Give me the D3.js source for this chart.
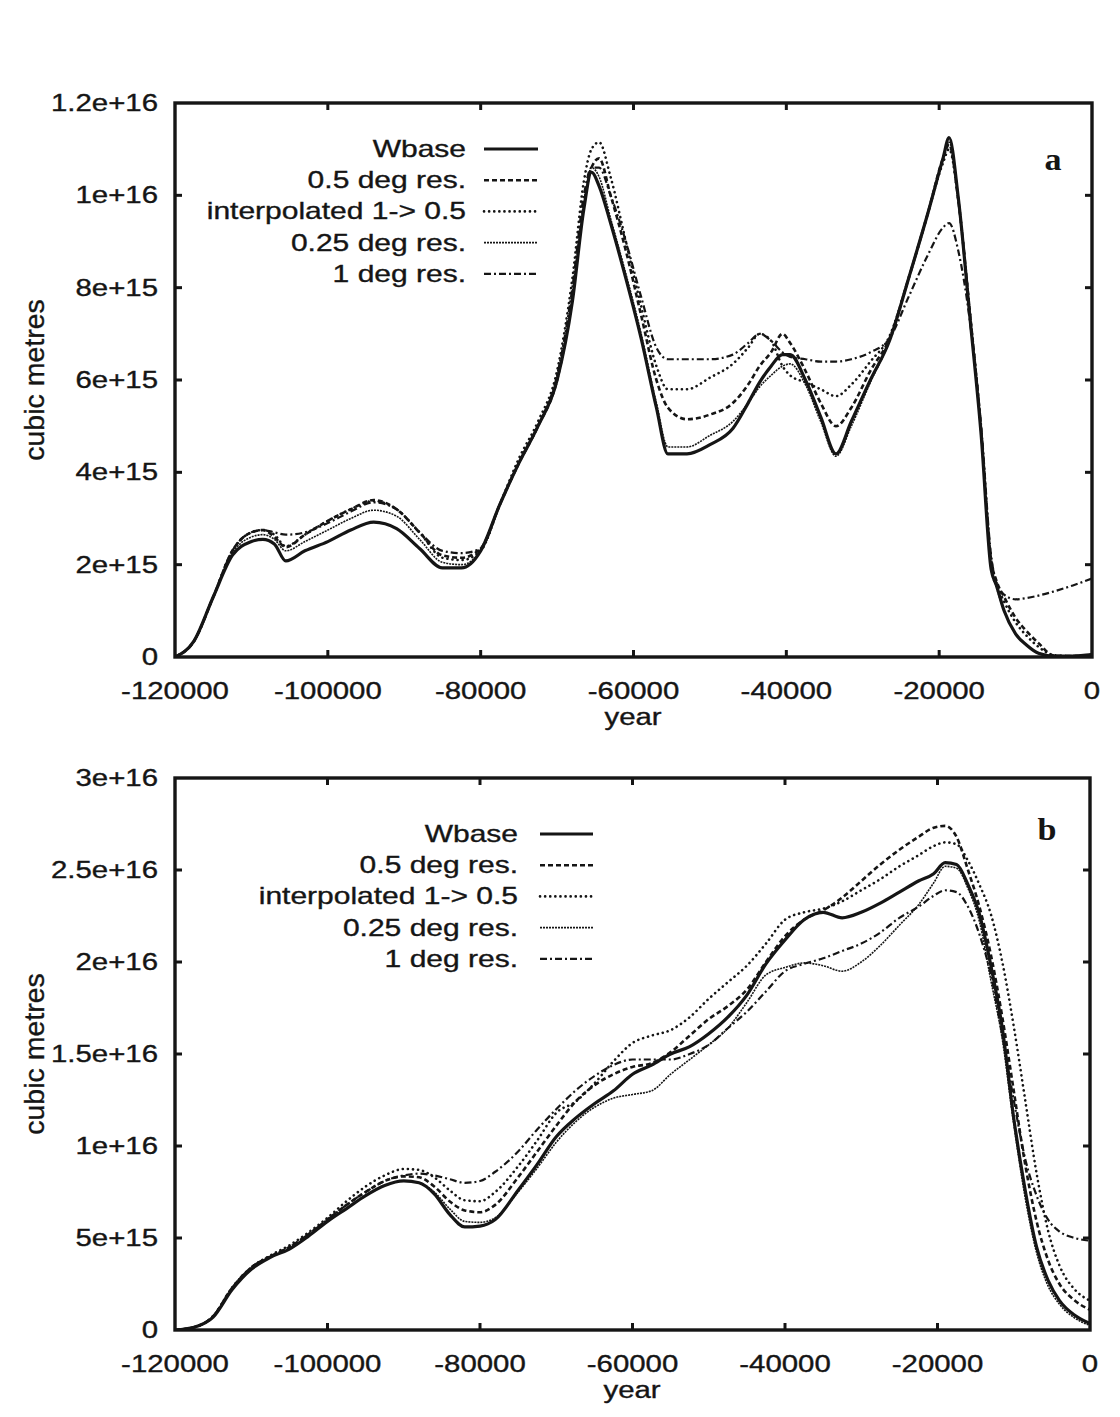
<!DOCTYPE html>
<html><head><meta charset="utf-8">
<script src="https://cdn.jsdelivr.net/npm/d3@7"></script>
<style>body{margin:0;background:#fff}svg{display:block}</style>
</head><body>
<svg id="c" width="1120" height="1417"></svg>
<script>
// ---------- DATA (values in units of 1e15 cubic metres) ----------
const seriesNames = ["Wbase","0.5 deg res.","interpolated 1-> 0.5","0.25 deg res.","1 deg res."];
const xTicks = [-120000,-100000,-80000,-60000,-40000,-20000,0];
const yTicksA = [0,2,4,6,8,10,12];
const yTickLabelsA = ["0","2e+15","4e+15","6e+15","8e+15","1e+16","1.2e+16"];
const yTicksB = [0,5,10,15,20,25,30];
const yTickLabelsB = ["0","5e+15","1e+16","1.5e+16","2e+16","2.5e+16","3e+16"];

const yearsA = [-120000,-117500,-115000,-112500,-110000,-108500,-107000,-105500,-103000,-100000,
 -97000,-94000,-91000,-88000,-85000,-82500,-80000,-77500,-75000,-72500,
 -70000,-68000,-66500,-65500,-64500,-63000,-61000,-59000,-57000,-55500,
 -53000,-50000,-47000,-45000,-43500,-42000,-40500,-39500,-37500,-35500,
 -33500,-31500,-29000,-26500,-24000,-21500,-19500,-18700,-17500,-16000,
 -14500,-13200,-12500,-11500,-10000,-8500,-7000,-5000,-2500,0];
const aWbase = [0,0.35,1.3,2.2,2.5,2.55,2.45,2.08,2.3,2.5,
 2.75,2.92,2.78,2.35,1.93,1.93,2.3,3.3,4.2,5.0,
 6.0,7.7,9.7,10.5,10.2,9.4,8.2,6.9,5.4,4.4,
 4.4,4.6,4.95,5.5,5.95,6.3,6.55,6.55,6.0,5.2,
 4.4,5.1,6.0,6.85,8.2,9.6,10.8,11.25,9.95,7.4,
 4.8,1.9,1.55,1.0,0.5,0.25,0.08,0.02,0.02,0.05];
const aHalf = [0,0.35,1.3,2.3,2.7,2.75,2.6,2.38,2.65,2.95,
 3.2,3.4,3.2,2.7,2.2,2.15,2.35,3.3,4.2,5.0,
 6.0,7.8,9.8,10.6,10.8,10.0,8.8,7.4,6.0,5.4,
 5.15,5.25,5.5,5.9,6.3,6.6,7.0,6.8,6.2,5.5,
 5.0,5.4,6.2,6.9,8.2,9.6,10.8,11.1,9.9,7.5,
 4.9,2.1,1.65,1.3,0.85,0.55,0.3,0.03,0.02,0.05];
const aInterp = [0,0.35,1.3,2.3,2.7,2.75,2.65,2.4,2.65,2.95,
 3.2,3.38,3.2,2.7,2.15,2.1,2.3,3.3,4.3,5.1,
 6.2,8.2,10.3,11.0,11.15,10.4,9.0,7.6,6.3,5.8,
 5.8,6.05,6.35,6.7,7.0,6.85,6.3,6.1,5.95,5.8,
 5.65,5.9,6.4,6.95,8.2,9.6,10.7,11.0,9.9,7.5,
 4.9,2.1,1.6,1.2,0.75,0.45,0.22,0.04,0.02,0.05];
const aQuarter = [0,0.35,1.3,2.25,2.6,2.65,2.55,2.3,2.5,2.75,
 3.0,3.18,3.05,2.55,2.05,2.0,2.3,3.3,4.2,5.0,
 6.0,7.8,9.8,10.6,10.4,9.5,8.3,7.0,5.5,4.55,
 4.55,4.8,5.1,5.5,5.85,6.1,6.3,6.35,5.9,5.1,
 4.35,5.0,5.95,6.85,8.2,9.6,10.8,11.15,9.9,7.4,
 4.8,1.9,1.5,1.0,0.5,0.25,0.08,0.02,0.02,0.05];
const aOne = [0,0.35,1.3,2.3,2.7,2.75,2.7,2.65,2.7,2.9,
 3.15,3.35,3.2,2.7,2.3,2.25,2.35,3.3,4.2,5.0,
 6.1,8.0,10.0,10.6,10.6,10.0,9.0,7.8,6.7,6.45,
 6.45,6.45,6.55,6.8,7.0,6.85,6.6,6.5,6.45,6.4,
 6.4,6.45,6.6,6.9,7.8,8.7,9.3,9.4,8.8,7.3,
 5.0,2.2,1.6,1.35,1.25,1.28,1.33,1.42,1.55,1.7];

const yearsB = [-120000,-117500,-115000,-112500,-110000,-107500,-105000,-102500,-100000,-97500,
 -95000,-92500,-90000,-88000,-86000,-84000,-82000,-80000,-78000,-75000,
 -72500,-70000,-67500,-65000,-62500,-60000,-57500,-55000,-52500,-50000,
 -47500,-45000,-42500,-40000,-37500,-35000,-32500,-30000,-27500,-25000,
 -22500,-20500,-19000,-17500,-16000,-14500,-13000,-11500,-10000,-8500,
 -7000,-5500,-4000,-2000,0];
const bWbase = [0,0.15,0.7,2.2,3.3,3.95,4.4,5.1,5.9,6.6,
 7.3,7.85,8.1,8.0,7.4,6.3,5.6,5.65,6.0,7.6,
 9.0,10.5,11.5,12.3,13.0,13.9,14.4,15.0,15.4,16.1,
 17.0,18.2,19.9,21.2,22.3,22.7,22.4,22.7,23.2,23.8,
 24.4,24.8,25.4,25.3,24.2,22.6,19.8,16.4,11.5,7.6,
 4.5,2.7,1.6,0.8,0.35];
const bHalf = [0,0.15,0.75,2.3,3.4,4.0,4.5,5.2,6.0,6.8,
 7.5,8.1,8.35,8.3,7.8,7.0,6.5,6.4,6.8,8.3,
 9.7,11.1,12.4,13.3,13.9,14.3,14.5,15.1,16.0,16.9,
 17.6,18.5,20.0,21.4,22.3,22.8,23.5,24.4,25.3,26.1,
 26.8,27.3,27.4,26.8,25.0,23.0,20.4,17.0,13.0,9.0,
 5.9,3.8,2.5,1.6,1.1];
const bInterp = [0,0.15,0.75,2.3,3.4,4.05,4.6,5.3,6.1,7.0,
 7.8,8.4,8.75,8.7,8.3,7.6,7.05,7.0,7.5,8.9,
 10.3,11.8,12.4,13.4,14.6,15.6,16.0,16.3,17.0,18.0,
 18.9,19.8,21.0,22.3,22.7,22.9,23.3,23.9,24.5,25.2,
 25.8,26.3,26.5,26.4,25.5,24.2,22.6,20.0,16.5,12.5,
 8.5,5.4,3.5,2.2,1.6];
const bQuarter = [0,0.15,0.7,2.2,3.3,3.95,4.4,5.1,5.9,6.6,
 7.3,7.85,8.1,8.0,7.5,6.6,5.9,5.85,6.1,7.5,
 8.8,10.2,11.3,12.1,12.6,12.8,13.0,13.9,14.7,15.5,
 16.4,17.8,19.3,19.7,19.95,19.8,19.5,20.0,20.9,22.0,
 23.1,24.3,25.2,25.1,24.0,22.2,19.0,15.8,11.2,7.2,
 4.2,2.4,1.4,0.65,0.25];
const bOne = [0,0.15,0.75,2.3,3.4,4.0,4.5,5.2,6.0,6.8,
 7.5,8.1,8.4,8.5,8.4,8.2,8.0,8.1,8.6,9.7,
 10.9,12.0,13.0,13.8,14.4,14.7,14.7,14.7,15.0,15.5,
 16.4,17.3,18.4,19.5,19.9,20.2,20.6,21.0,21.6,22.4,
 23.0,23.6,23.9,23.8,23.0,21.5,19.3,16.0,12.5,9.3,
 7.3,6.0,5.35,5.0,4.85];

// ---------- STYLES ----------
const styles = [
  {w:3.2, dash:null, cap:"butt"},
  {w:2.6, dash:"5,3", cap:"butt"},
  {w:2.6, dash:"0.1,5", cap:"round"},
  {w:1.6, dash:"2,1", cap:"butt"},
  {w:2.2, dash:"7,3,2,3", cap:"butt"}
];
const INK = "#151515";
const FONT = "'Liberation Sans', Arial, Helvetica, sans-serif";
const SX = 1.25; // horizontal stretch of the original typesetting

const svg = d3.select("#c");

function stext(g, x, y, str, anchor, size, opts={}) {
  return g.append("text")
    .attr("transform", `translate(${x},${y}) scale(${opts.sx||SX},1)`)
    .attr("text-anchor", anchor)
    .attr("font-family", opts.family || FONT)
    .attr("font-size", size)
    .attr("font-weight", opts.weight || "normal")
    .attr("fill", INK)
    .attr("stroke", INK).attr("stroke-width", opts.sw==null?0.35:opts.sw)
    .text(str);
}

function panel(cfg) {
  const g = svg.append("g");
  const x = d3.scaleLinear().domain([-120000,0]).range([cfg.x0,cfg.x1]);
  const y = d3.scaleLinear().domain([0,cfg.ymax]).range([cfg.y0,cfg.y1]);

  // ticks (inward, mirrored)
  const tl = 7;
  const ta = g.append("g");
  xTicks.slice(1,-1).forEach(v=>{
    ta.append("line").attr("x1",x(v)).attr("x2",x(v)).attr("y1",y(0)).attr("y2",y(0)-tl).attr("stroke",INK).attr("stroke-width",3);
    ta.append("line").attr("x1",x(v)).attr("x2",x(v)).attr("y1",y(cfg.ymax)).attr("y2",y(cfg.ymax)+tl).attr("stroke",INK).attr("stroke-width",3);
  });
  cfg.yTicks.slice(1,-1).forEach(v=>{
    ta.append("line").attr("x1",x(-120000)).attr("x2",x(-120000)+tl).attr("y1",y(v)).attr("y2",y(v)).attr("stroke",INK).attr("stroke-width",3);
    ta.append("line").attr("x1",x(0)).attr("x2",x(0)-tl).attr("y1",y(v)).attr("y2",y(v)).attr("stroke",INK).attr("stroke-width",3);
  });

  // tick labels
  xTicks.forEach(v=>{
    stext(g, x(v), y(0)+42, String(v), "middle", 23.5);
  });
  cfg.yTicks.forEach((v,i)=>{
    stext(g, cfg.x0-17, y(v)+8, cfg.yLabels[i], "end", 23.5);
  });

  // axis titles
  stext(g, cfg.yearX, y(0)+68, "year", "middle", 23.5);
  g.append("text")
    .attr("transform", `translate(${cfg.ylabX},${(cfg.y0+cfg.y1)/2}) rotate(-90)`)
    .attr("text-anchor","middle")
    .attr("font-family",FONT).attr("font-size",28.5).attr("fill",INK)
    .attr("stroke",INK).attr("stroke-width",0.35)
    .text("cubic metres");

  // lines
  const line = d3.line().x(d=>x(d[0])).y(d=>y(d[1])).curve(d3.curveMonotoneX);
  const clipId = "clip"+cfg.id;
  g.append("clipPath").attr("id",clipId).append("rect")
    .attr("x",cfg.x0).attr("y",cfg.y1).attr("width",cfg.x1-cfg.x0).attr("height",cfg.y0-cfg.y1);
  const lg = g.append("g").attr("clip-path",`url(#${clipId})`);
  [4,2,1,3,0].forEach(i=>{
    const vals = cfg.series[i];
    const pts = cfg.years.map((yr,k)=>[yr, vals[k]]);
    const s = styles[i];
    lg.append("path").datum(pts).attr("d",line)
      .attr("fill","none").attr("stroke",INK).attr("stroke-width",s.w)
      .attr("stroke-dasharray",s.dash).attr("stroke-linecap",s.cap).attr("stroke-linejoin","round");
  });

  // frame
  g.append("rect").attr("x",cfg.x0).attr("y",cfg.y1).attr("width",cfg.x1-cfg.x0).attr("height",cfg.y0-cfg.y1)
    .attr("fill","none").attr("stroke",INK).attr("stroke-width",3.4);

  // legend
  seriesNames.forEach((nm,i)=>{
    const ly = cfg.legY + i*31.2;
    stext(g, cfg.legTextX, ly+8, nm, "end", 24);
    const s = styles[i];
    g.append("line").attr("x1",cfg.legX0).attr("x2",cfg.legX1).attr("y1",ly).attr("y2",ly)
      .attr("stroke",INK).attr("stroke-width",s.w).attr("stroke-dasharray",s.dash).attr("stroke-linecap",s.cap);
  });

  // panel letter
  stext(g, cfg.letX, cfg.letY, cfg.letter, "middle", 31, {family:"'Liberation Serif','DejaVu Serif',serif", weight:"bold", sx:1.1, sw:0});
}

panel({id:"a", x0:175, x1:1092, y0:657, y1:103, ymax:12, yTicks:yTicksA, yLabels:yTickLabelsA,
  years:yearsA, series:[aWbase,aHalf,aInterp,aQuarter,aOne],
  legY:149, legTextX:466, legX0:484, legX1:538, letter:"a", letX:1053, letY:170, ylabX:44, yearX:633});
panel({id:"b", x0:175, x1:1090, y0:1330, y1:778, ymax:30, yTicks:yTicksB, yLabels:yTickLabelsB,
  years:yearsB, series:[bWbase,bHalf,bInterp,bQuarter,bOne],
  legY:834, legTextX:518, legX0:540, legX1:593, letter:"b", letX:1047, letY:840, ylabX:44, yearX:632});
</script>
</body></html>
